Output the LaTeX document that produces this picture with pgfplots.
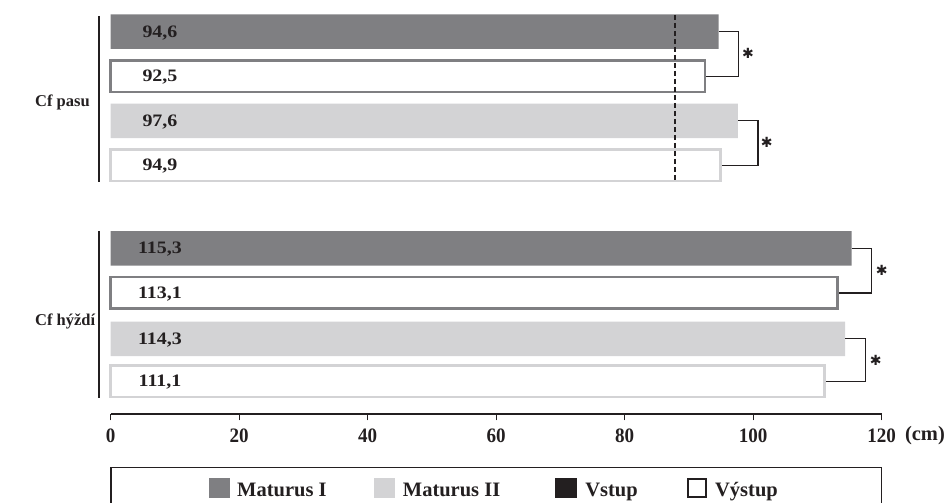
\documentclass[border=0pt]{standalone}
\usepackage{pgfplots}
\pgfplotsset{compat=1.18}
\usepackage{fontspec}
\setmainfont{Liberation Serif}
\newfontfamily\barfont{Liberation Serif}[FakeStretch=1.14]
\newfontfamily\tickfont{Liberation Serif}[FakeStretch=0.93]
\newfontfamily\symfont{DejaVu Sans}
\definecolor{dg}{RGB}{127,127,130}
\definecolor{lg}{RGB}{211,211,213}
\definecolor{ink}{RGB}{35,31,32}
\begin{document}
\begin{tikzpicture}
\begin{axis}[
  x=6.425pt, y=1pt,
  xmin=0, xmax=120, ymin=88.7, ymax=500,
  axis x line*=bottom, axis y line=none,
  axis line style={line width=2pt, ink},
  xtick={0,20,...,120},
  tick align=outside, major tick length=6pt,
  tick style={line width=1.3pt, ink},
  /pgf/number format/assume math mode=true,
  xticklabel style={font=\tickfont\bfseries\fontsize{20.5}{24}\selectfont, text=ink, inner sep=0pt, anchor=north, yshift=-8pt},
  clip=false,
]
% Maturus I - Vstup (filled dark)
\addplot[xbar, bar shift=0pt, bar width=34.5, fill=dg, draw=none] coordinates {(94.6,471.3) (115.3,254.7)};
% Maturus I - Vystup (outlined dark)
\addplot[xbar, bar shift=0pt, bar width=31.5, fill=white, draw=dg, line width=2.5pt] coordinates {(92.5,426.7) (113.1,210)};
% Maturus II - Vstup (filled light)
\addplot[xbar, bar shift=0pt, bar width=34.5, fill=lg, draw=none] coordinates {(97.6,382.2) (114.3,164.2)};
% Maturus II - Vystup (outlined light)
\addplot[xbar, bar shift=0pt, bar width=31.5, fill=white, draw=lg, line width=2.5pt] coordinates {(94.9,337.8) (111.1,121.7)};

% value labels
\begin{scope}[every node/.style={anchor=base, inner sep=0pt, text=ink, font=\barfont\bfseries\fontsize{17.5}{20}\selectfont}]
\node at (axis cs:7.67,465.6) {94,6};
\node at (axis cs:7.67,421.0) {92,5};
\node at (axis cs:7.67,376.5) {97,6};
\node at (axis cs:7.67,332.1) {94,9};
\node at (axis cs:7.67,249.0) {115,3};
\node at (axis cs:7.67,204.3) {113,1};
\node at (axis cs:7.67,158.5) {114,3};
\node at (axis cs:7.67,116.0) {111,1};
\end{scope}

% dashed reference line
\draw[ink, line width=2.2pt, dash pattern=on 5pt off 3pt] (axis cs:87.8,488) -- (axis cs:87.8,321.3);

% group lines and labels
\draw[ink, line width=2pt] (axis cs:-1.774,487) -- (axis cs:-1.774,321.3);
\draw[ink, line width=2pt] (axis cs:-1.774,272) -- (axis cs:-1.774,105);
\node[anchor=base west, inner sep=0pt, text=ink, font=\bfseries\fontsize{16.5}{19}\selectfont] at (axis cs:-11.78,396) {Cf pasu};
\node[anchor=base west, inner sep=0pt, text=ink, font=\bfseries\fontsize{16.5}{19}\selectfont] at (axis cs:-11.78,177) {Cf hýždí};

% significance brackets
\begin{scope}[ink, line width=1.3pt]
\draw (axis cs:94.6,471.3) -- (axis cs:97.74,471.3) -- (axis cs:97.74,426.7) -- (axis cs:92.7,426.7);
\draw (axis cs:97.6,382.2) -- (axis cs:100.75,382.2) -- (axis cs:100.75,337.8) -- (axis cs:95.1,337.8);
\draw (axis cs:115.3,254.7) -- (axis cs:118.44,254.7) -- (axis cs:118.44,210) -- (axis cs:113.3,210);
\draw (axis cs:114.3,164.2) -- (axis cs:117.45,164.2) -- (axis cs:117.45,121.7) -- (axis cs:111.3,121.7);
\end{scope}
\begin{scope}[every node/.style={inner sep=0pt, text=ink, font=\symfont\fontsize{14}{14}\selectfont}]
\node at (axis cs:99.19,450) {✱};
\node at (axis cs:102.1,360.3) {✱};
\node at (axis cs:120.0,232.3) {✱};
\node at (axis cs:119.07,142.3) {✱};
\end{scope}

% unit
\node[anchor=base west, inner sep=0pt, text=ink, font=\bfseries\fontsize{20.5}{24}\selectfont] at (axis cs:123.6,62) {(cm)};

% legend
\draw[ink, line width=1.3pt] (axis cs:0.05,35.3) rectangle (axis cs:120,-5);
\fill[dg] (axis cs:15.30,4.7) rectangle (axis cs:18.57,24.7);
\fill[lg] (axis cs:41.03,4.7) rectangle (axis cs:44.25,24.7);
\fill[ink] (axis cs:69.15,4.7) rectangle (axis cs:72.58,24.7);
\draw[ink, line width=2pt] (axis cs:89.9,5.7) rectangle (axis cs:92.6,23.7);
\begin{scope}[every node/.style={anchor=base west, inner sep=0pt, text=ink, font=\bfseries\fontsize{20.5}{24}\selectfont}]
\node at (axis cs:19.66,6.3) {Maturus I};
\node at (axis cs:45.45,6.3) {Maturus II};
\node at (axis cs:73.83,6.3) {Vstup};
\node at (axis cs:94.05,6.3) {Výstup};
\end{scope}

\coordinate (fr1) at (axis cs:-17.23,0);
\coordinate (fr2) at (axis cs:130.32,503);
\end{axis}
\pgfresetboundingbox
\path (fr1) rectangle (fr2);
\end{tikzpicture}
\end{document}
